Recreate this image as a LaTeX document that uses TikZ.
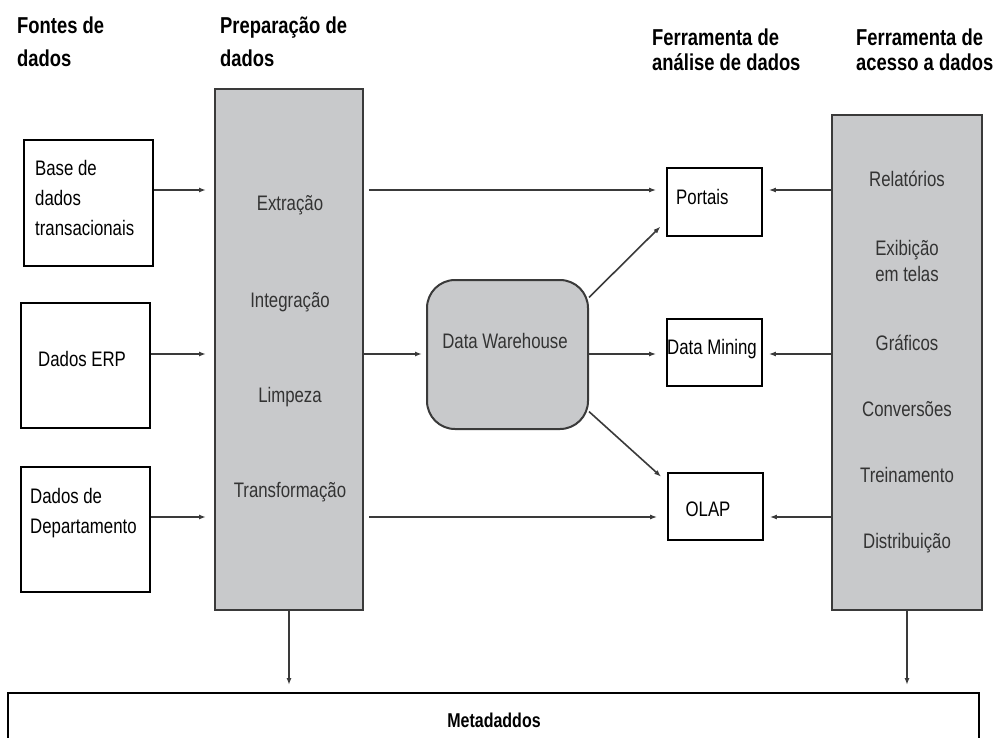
\documentclass[tikz,border=0pt]{standalone}
\usepackage{fontspec}
\setmainfont{Liberation Sans}[FakeStretch=0.8]
\usetikzlibrary{arrows.meta,calc}
\definecolor{boxgray}{HTML}{C8C9CB}
\definecolor{linegray}{HTML}{3A3A3A}
\definecolor{txtgray}{HTML}{333333}

\begin{document}
\begin{tikzpicture}[x=1pt,y=-1pt,
  whitebox/.style={draw=black,line width=1.8pt,fill=white,inner sep=0pt},
  graybox/.style={draw=linegray,line width=2pt,fill=boxgray,inner sep=0pt},
  head/.style={font=\fontsize{23}{33}\selectfont\bfseries,align=left,inner sep=0pt,anchor=north west},
  txt/.style={font=\fontsize{21}{30}\selectfont,inner sep=0pt},
  gtxt/.style={txt,text=txtgray,align=center},
  arr/.style={draw=linegray,line width=1.6pt,-{Latex[length=7pt,width=5pt]}}]
\useasboundingbox (0,0) rectangle (999,737);
\fill[white] (0,0) rectangle (999,737);
\clip (0,0) rectangle (999,737);
% column titles
\node[head] (hfontes) at (17,17) {Fontes de\\dados};
\node[head] (hprep) at (220,17) {Preparação de\\dados};
\node[head,font=\fontsize{23}{25}\selectfont\bfseries] (hanalise) at (652,29) {Ferramenta de\\análise de dados};
\node[head,font=\fontsize{23}{25}\selectfont\bfseries] (hacesso) at (856,29) {Ferramenta de\\acesso a dados};
% rows of the arrows
\coordinate (row1) at (0,190);
\coordinate (row2) at (0,354);
\coordinate (row3) at (0,517);
% data sources
\node[whitebox,minimum width=129pt,minimum height=126pt] (src1) at (88.5,203) {};
\node[whitebox,minimum width=129pt,minimum height=125pt] (src2) at (85.5,365.5) {};
\node[whitebox,minimum width=129pt,minimum height=125pt] (src3) at (85.5,529.5) {};
\node[txt,align=left,anchor=west] (src1txt) at (35,198) {Base de\\dados\\transacionais};
\node[txt,anchor=west] (src2txt) at (38,359) {Dados ERP};
\node[txt,align=left,anchor=west] (src3txt) at (30,513) {Dados de\\Departamento};
% preparation
\node[graybox,minimum width=148pt,minimum height=521pt] (prep) at (289,349.5) {};
\foreach \t/\y in {Extração/205,Integração/302,Limpeza/397,Transformação/492}
  \node[gtxt] at (290,\y) {\t};
% warehouse
\node[graybox,rounded corners=28pt,minimum width=161pt,minimum height=149pt] (dw) at (507.5,354.5) {};
\node[gtxt] (dwtxt) at (505,341) {Data Warehouse};
% analysis tools
\node[whitebox,minimum width=95pt,minimum height=68pt] (portais) at (714.5,202) {};
\node[whitebox,minimum width=95pt,minimum height=67pt] (mining) at (714.5,352.5) {};
\node[whitebox,minimum width=95pt,minimum height=67pt] (olap) at (715.5,506.5) {};
\node[txt,anchor=west] (portaistxt) at (676,197) {Portais};
\node[txt] (miningtxt) at (712,349) {Data Mining};
\node[txt] (olaptxt) at (708,509) {OLAP};
% access tools
\node[graybox,minimum width=150pt,minimum height=495pt] (access) at (907,362.5) {};
\foreach \t/\y in {Relatórios/179,Gráficos/343,Conversões/409,Treinamento/475,Distribuição/543}
  \node[gtxt] at (907,\y) {\t};
\node[gtxt,font=\fontsize{21}{26}\selectfont] (exib) at (907,261) {Exibição\\em telas};
% metadata
\node[whitebox,minimum width=971pt,minimum height=120pt,anchor=north] (meta) at (493.5,692) {};
\node[font=\fontsize{20}{24}\selectfont\bfseries] (metatxt) at (494,720) {Metadaddos};
% arrows
\foreach \s/\r in {src1/row1,src2/row2,src3/row3}
  \draw[arr,shorten >=8pt] (\s.east |- \r) -- (prep.west |- \r);
\draw[arr,shorten <=5pt,shorten >=10pt] (prep.east |- row1) -- (portais.west |- row1);
\draw[arr,shorten >=4pt] (prep.east |- row2) -- (dw.west |- row2);
\draw[arr,shorten <=5pt,shorten >=10pt] (prep.east |- row3) -- (olap.west |- row3);
\draw[arr,shorten >=10pt] (dw.east |- row2) -- (mining.west |- row2);
\draw[arr,shorten >=8pt] (dw.35) -- ([yshift=16pt]portais.south west);
\draw[arr,shorten >=8pt] (dw.-35) -- ([yshift=-10pt]olap.north west);
\foreach \t/\r in {portais/row1,mining/row2,olap/row3}
  \draw[arr,shorten >=6pt] (access.west |- \r) -- (\t.east |- \r);
\draw[arr,shorten >=7pt] (prep.south) -- (prep.south |- meta.north);
\draw[arr,shorten >=7pt] (access.south) -- (access.south |- meta.north);
\end{tikzpicture}
\end{document}
